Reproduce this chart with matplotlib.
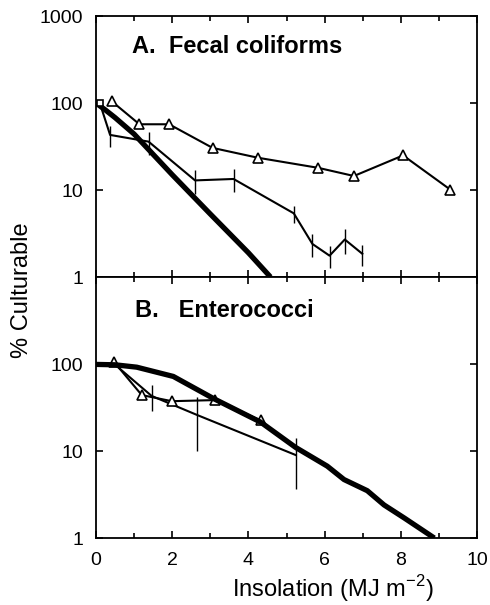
import matplotlib
matplotlib.use('Agg')
import matplotlib.pyplot as plt
from matplotlib.ticker import FixedLocator, NullLocator, FixedFormatter

plt.rcParams['font.family'] = ['Liberation Sans', 'DejaVu Sans']
plt.rcParams['mathtext.fontset'] = 'custom'
plt.rcParams['mathtext.rm'] = 'Liberation Sans'

# A. fecal coliforms
fc_tri_x = [0.41, 1.14, 1.92, 3.06, 4.25, 5.83, 6.77, 8.06, 9.30]
fc_tri_y = [105, 57, 57, 30.5, 23.5, 18, 14.5, 25, 10.1]
fc_err_x = [0.1, 0.37, 1.38, 2.60, 3.61, 5.19, 5.68, 6.13, 6.53, 6.99]
fc_err_y = [100, 43, 36, 12.9, 13.4, 5.4, 2.4, 1.76, 2.7, 1.85]
fc_err_e = [0, 12, 11, 3.9, 3.9, 1.2, 0.7, 0.5, 0.85, 0.5]
fc_fit_x = [0, 0.25, 0.5, 1.0, 2.0, 3.0, 4.0, 4.58]
fc_fit_y = [100, 83, 68, 44, 15, 5.3, 1.9, 1.0]

# B. enterococci
ent_tri_x = [0.48, 1.2, 1.99, 3.13, 4.32]
ent_tri_y = [105, 44, 37.4, 38.5, 22.5]
ent_err_x = [0.48, 1.46, 2.65, 5.24]
ent_err_y = [100, 43, 26, 9.0]
ent_err_e = [0, 14, 16, 5.3]
ent_fit_x = [0, 0.5, 1.07, 2.03, 3.09, 4.32, 5.24, 6.07, 6.51, 7.12, 7.56, 8.09, 8.88]
ent_fit_y = [99, 98, 92, 72, 40, 21.5, 11, 6.7, 4.7, 3.5, 2.4, 1.7, 1.0]

x_major = [0, 2, 4, 6, 8, 10]
x_minor = [1, 3, 5, 7, 9]


def style_axis(ax, yticks, show_xlabels):
    ax.set_yscale('log')
    ax.set_xlim(0, 10)
    ax.set_ylim(1, 1000)
    ax.xaxis.set_major_locator(FixedLocator(x_major))
    ax.xaxis.set_minor_locator(FixedLocator(x_minor))
    ax.yaxis.set_major_locator(FixedLocator(yticks))
    ax.yaxis.set_major_formatter(FixedFormatter([str(t) for t in yticks]))
    ax.yaxis.set_minor_locator(NullLocator())
    ax.tick_params(which='both', direction='in', top=True, right=True,
                   width=1.2, labelsize=14)
    ax.tick_params(which='major', length=5)
    ax.tick_params(which='minor', length=3.5)
    ax.tick_params(axis='y', pad=9)
    ax.tick_params(axis='x', pad=10, labelbottom=show_xlabels)
    for sp in ax.spines.values():
        sp.set_linewidth(1.3)


def draw_panel(ax, tri_x, tri_y, err_x, err_y, err_e, fit_x, fit_y):
    ax.errorbar(err_x, err_y, yerr=err_e, color='black', lw=1.5,
                elinewidth=1.0, capsize=0, zorder=2)
    ax.plot(tri_x, tri_y, color='black', lw=1.5, marker='^', ms=6.5,
            mfc='white', mec='black', mew=1.2, zorder=3)
    ax.plot(fit_x, fit_y, color='black', lw=3.8, solid_capstyle='butt',
            solid_joinstyle='round', zorder=4)


fig = plt.figure(figsize=(4.9, 6.05), dpi=100)
ax_a = fig.add_axes([0.1959, 0.5421, 0.7776, 0.4314])
ax_b = fig.add_axes([0.1959, 0.1107, 0.7776, 0.4314])

draw_panel(ax_a, fc_tri_x, fc_tri_y, fc_err_x, fc_err_y, fc_err_e,
           fc_fit_x, fc_fit_y)
ax_a.plot(fc_err_x[:1], fc_err_y[:1], marker='s', ms=4, color='black',
          mfc='white', mew=1.2, zorder=5)
draw_panel(ax_b, ent_tri_x, ent_tri_y, ent_err_x, ent_err_y, ent_err_e,
           ent_fit_x, ent_fit_y)

style_axis(ax_a, [1, 10, 100, 1000], False)
style_axis(ax_b, [1, 10, 100], True)

ax_a.text(0.94, 376, 'A.  Fecal coliforms', fontsize=17, fontweight='bold',
          va='baseline', ha='left')
ax_b.text(1.03, 343, 'B.   Enterococci', fontsize=17, fontweight='bold',
          va='baseline', ha='left')

fig.text(22 / 490, 1 - 290 / 605, '% Culturable', rotation=90, fontsize=17,
         ha='center', va='center')
fig.text(333 / 490, 8 / 605, 'Insolation (MJ m$^{\\mathregular{-2}}$)',
         fontsize=17, ha='center', va='baseline')

fig.savefig('out.png', dpi=100)
